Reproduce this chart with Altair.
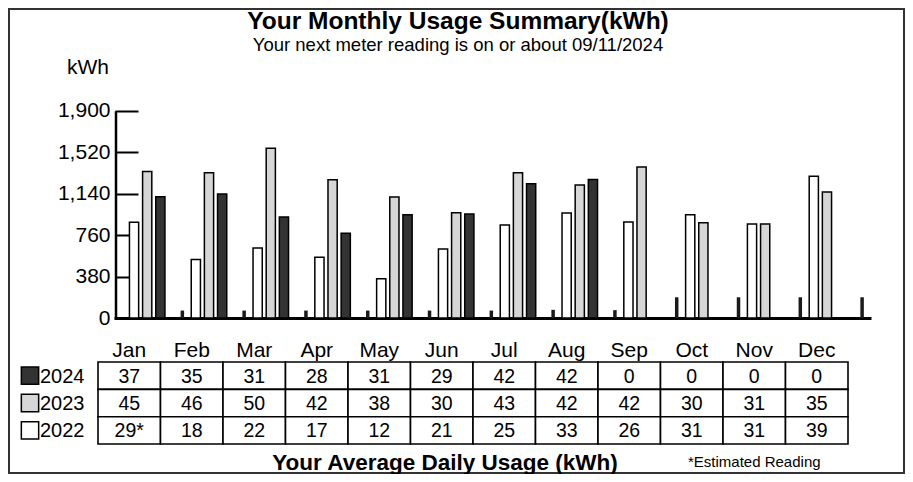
import altair as alt
import pandas as pd

months = ["Jan", "Feb", "Mar", "Apr", "May", "Jun", "Jul", "Aug", "Sep", "Oct", "Nov", "Dec"]
years = ["2022", "2023", "2024"]
legend_rows = ["2024", "2023", "2022"]

kwh_2022 = [878, 537, 642, 557, 359, 633, 853, 962, 880, 946, 862, 1300]
kwh_2023 = [1343, 1331, 1556, 1267, 1108, 965, 1331, 1218, 1385, 874, 862, 1154]
kwh_2024 = [1111, 1137, 926, 776, 947, 953, 1230, 1270, 0, 0, 0, 0]
marker_kwh = [68, 68, 68, 68, 68, 68, 75, 72, 190, 190, 190, 190]

daily_2024 = [37, 35, 31, 28, 31, 29, 42, 42, 0, 0, 0, 0]
daily_2023 = [45, 46, 50, 42, 38, 30, 43, 42, 42, 30, 31, 35]
daily_2022 = [29, 18, 22, 17, 12, 21, 25, 33, 26, 31, 31, 39]
estimated_2022 = [True, False, False, False, False, False, False, False, False, False, False, False]

y_ticks = [0, 380, 760, 1140, 1520, 1900]

title_text = "Your Monthly Usage Summary(kWh)"
subtitle_text = "Your next meter reading is on or about 09/11/2024"
unit_text = "kWh"
table_title = "Your Average Daily Usage (kWh)"
footnote_text = "*Estimated Reading"

ARIAL = "Liberation Sans, Arial, sans-serif"
NARROW = "Liberation Sans Narrow, Arial Narrow, Liberation Sans, sans-serif"

# ---------- data frames ----------
bars_rows = []
for y, vals in zip(years, [kwh_2022, kwh_2023, kwh_2024]):
    for m, v in zip(months, vals):
        bars_rows.append({"month": m, "year": y, "kwh": v})
df_bars = pd.DataFrame(bars_rows)
df_marker = pd.DataFrame({"month": months, "kwh": marker_kwh})

table_rows = []
for y, vals in zip(["2024", "2023", "2022"], [daily_2024, daily_2023, daily_2022]):
    for i, (m, v) in enumerate(zip(months, vals)):
        lab = str(v)
        if y == "2022" and estimated_2022[i]:
            lab += "*"
        table_rows.append({"month": m, "row": y, "label": lab})
df_table = pd.DataFrame(table_rows)
df_head = pd.DataFrame({"month": months, "row": ["month"] * 12})
df_legend = pd.DataFrame({"row": legend_rows})

X_SCALE = alt.Scale(domain=months, range=[106, 863], paddingInner=0, paddingOuter=0.125, align=1)
Y_SCALE = alt.Scale(domain=[0, 1900], range=[310, 102.7], nice=False, zero=True)
COLOR = alt.Scale(domain=legend_rows, range=["#333333", "#d6d6d6", "#ffffff"])
TX = alt.Scale(domain=months, range=[90, 840], paddingInner=0, paddingOuter=0)
TY = alt.Scale(domain=["month", "2024", "2023", "2022"], range=[326.7, 436], paddingInner=0, paddingOuter=0)

bars = alt.Chart(df_bars).transform_filter("datum.kwh > 0").mark_bar(
    stroke="black", strokeWidth=1.5
).encode(
    x=alt.X("month:N", scale=X_SCALE, sort=months,
            axis=alt.Axis(orient="bottom", offset=-156, domain=True, domainColor="black",
                          domainWidth=3, ticks=False, labels=False, grid=False, title=None)),
    xOffset=alt.XOffset("year:N", sort=years,
                        scale=alt.Scale(domain=years, paddingInner=0.3, paddingOuter=1, align=0)),
    y=alt.Y("kwh:Q", scale=Y_SCALE,
            axis=alt.Axis(orient="left", offset=-130, values=y_ticks, format=",d", tickSize=23,
                          tickWidth=2, tickColor="black", labelPadding=5, labelFontSize=21,
                          labelFont=ARIAL, labelColor="black", domain=False, grid=False, title=None)),
    color=alt.Color("year:N", scale=COLOR, legend=None),
)

markers = alt.Chart(df_marker).mark_bar(width=3.5, xOffset=22, color="#1a1a1a").encode(
    x=alt.X("month:N", scale=X_SCALE, sort=months, axis=None),
    y=alt.Y("kwh:Q", scale=Y_SCALE,
            axis=alt.Axis(orient="left", offset=-107.5, domain=True, domainWidth=2.5,
                          domainColor="black", ticks=False, labels=False, grid=False, title=None)),
)

cells = alt.Chart(df_table).mark_rect(fill="white", stroke="black", strokeWidth=1.6).encode(
    x=alt.X("month:N", scale=TX, sort=months, axis=None),
    y=alt.Y("row:N", scale=TY, axis=None),
)
cell_text = alt.Chart(df_table).mark_text(font=ARIAL, fontSize=19.5, color="black", baseline="middle", dy=1).encode(
    x=alt.X("month:N", scale=TX, sort=months, axis=None),
    y=alt.Y("row:N", scale=TY, axis=None),
    text="label:N",
)
heads = alt.Chart(df_head).mark_text(font=ARIAL, fontSize=21, color="black", baseline="middle", dy=3).encode(
    x=alt.X("month:N", scale=TX, sort=months, axis=None),
    y=alt.Y("row:N", scale=TY, axis=None),
    text="month:N",
)
leg_sq = alt.Chart(df_legend).mark_square(size=300, stroke="black", strokeWidth=1.5, opacity=1).encode(
    x=alt.value(22),
    y=alt.Y("row:N", scale=TY, axis=None),
    color=alt.Color("row:N", scale=COLOR, legend=None),
)
leg_txt = alt.Chart(df_legend).mark_text(font=ARIAL, fontSize=20, color="black", align="left", baseline="middle", dy=1).encode(
    x=alt.value(32),
    y=alt.Y("row:N", scale=TY, axis=None),
    text="row:N",
)

def label(txt, x, y, size, font, weight="normal", align="center"):
    return alt.Chart(pd.DataFrame({"t": [txt]})).mark_text(
        font=font, fontSize=size, fontWeight=weight, align=align, baseline="alphabetic", color="black"
    ).encode(text="t:N", x=alt.value(x), y=alt.value(y))

title = label(title_text, 450, 21, 24.5, NARROW, "bold")
subtitle = label(subtitle_text, 450, 43, 18.5, ARIAL)
unit = label(unit_text, 59, 66, 21, ARIAL, align="left")
ttitle = label(table_title, 437, 462, 22.5, ARIAL, "bold")
foot = label(footnote_text, 680, 459, 15, ARIAL, align="left")

frame = alt.Chart(pd.DataFrame({"f": [0]})).mark_rect(fill="transparent", stroke="#333333", strokeWidth=2).encode(
    x=alt.value(1), x2=alt.value(896), y=alt.value(1), y2=alt.value(465)
)

chart = alt.layer(
    frame, bars, markers, cells, cell_text, heads, leg_sq, leg_txt,
    title, subtitle, unit, ttitle, foot
).resolve_scale(
    x="independent", y="independent", color="independent", xOffset="independent"
).properties(
    width=897, height=466, padding=0, autosize="none", background="white"
).configure_view(strokeWidth=0)

chart.save("out.html", embed_options={"renderer": "svg", "actions": False})
